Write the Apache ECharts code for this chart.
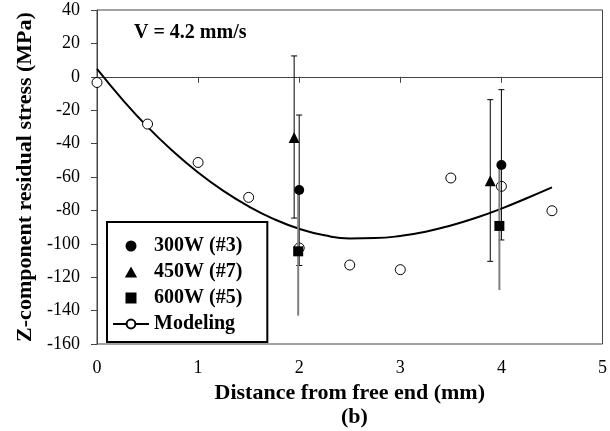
<!DOCTYPE html>
<html>
<head>
<meta charset="utf-8">
<script src="https://cdn.jsdelivr.net/npm/echarts@6/dist/echarts.min.js"></script>
<style>
  html, body { margin: 0; padding: 0; background: #fff; }
  #chart { width: 610px; height: 431px; }
</style>
</head>
<body>
<div id="chart"></div>
<script>
// modeling: fitted curve + computed points
const curveX = [0, 0.25, 0.5, 0.75, 1, 1.25, 1.5, 1.75, 2, 2.25, 2.5, 2.75, 3, 3.25, 3.5, 3.75, 4, 4.25, 4.5];
const curveY = [4.7, -13.5, -30, -44.5, -57.3, -68.3, -77.6, -85.2, -91, -94.9, -96.8, -96.6, -95.3, -92.8, -89, -84.4, -78.9, -72.7, -66.2];
const modelX = [0, 0.5, 1, 1.5, 2, 2.5, 3, 3.5, 4, 4.5];
const modelY = [-3.4, -28.3, -51.3, -72.2, -102.5, -112.7, -115.5, -60.6, -65.6, -80.2];

// measurements (x, mean, low, high)
const w300X = [2.0, 4.0];
const w300Y = [-67.8, -52.8];
const w300Lo = [-113, -97.7];
const w300Hi = [-22.9, -7.7];

const w450X = [1.95, 3.89];
const w450Y = [-36.3, -62.2];
const w450Lo = [-84.6, -110.5];
const w450Hi = [12.5, -13.7];

const w600X = [1.99, 3.98];
const w600Y = [-104.5, -89.3];
const w600Lo = [-143, -127.7];
const w600Hi = [-66, -51.6];

const font = '"Liberation Serif", "Times New Roman", serif';

const pairs = (xs, ys) => xs.map((x, i) => [x, ys[i]]);
const bars = (xs, lo, hi) => xs.map((x, i) => [x, lo[i], hi[i]]);

// vertical error bar drawn in data coords
function errorBar(color, width, cap) {
    return function (params, api) {
        const top = api.coord([api.value(0), api.value(2)]);
        const bot = api.coord([api.value(0), api.value(1)]);
        const style = { stroke: color, lineWidth: width };
        const children = [
            { type: 'line', shape: { x1: top[0], y1: top[1], x2: bot[0], y2: bot[1] }, style }
        ];
        if (cap) {
            children.push(
                { type: 'line', shape: { x1: top[0] - 3, y1: top[1], x2: top[0] + 3, y2: top[1] }, style },
                { type: 'line', shape: { x1: bot[0] - 3, y1: bot[1], x2: bot[0] + 3, y2: bot[1] }, style }
            );
        }
        return { type: 'group', children };
    };
}

const chart = echarts.init(document.getElementById('chart'));

const option = {
    backgroundColor: '#fff',
    animation: false,
    title: [
        {
            text: 'V = 4.2 mm/s',
            left: 134, top: 23,
            padding: 0,
            textStyle: { fontFamily: font, fontSize: 20, fontWeight: 'bold', color: '#000' }
        },
        {
            text: '(b)',
            left: 341, top: 406,
            padding: 0,
            textStyle: { fontFamily: font, fontSize: 22, fontWeight: 'bold', color: '#000' }
        }
    ],
    grid: {
        left: 97, right: 4, top: 10, bottom: 87,
        show: true,
        borderColor: '#444',
        borderWidth: 1
    },
    legend: {
        data: [
            { name: '300W (#3)', icon: 'circle' },
            { name: '450W (#7)', icon: 'path://M5,0 L10,9 L0,9 Z' },
            { name: '600W (#5)', icon: 'path://M0,0 L10,0 L10,10 L0,10 Z' },
            { name: 'Modeling' }
        ],
        orient: 'vertical',
        left: 107, top: 222,
        padding: [14, 25, 8, 5],
        borderColor: '#000',
        borderWidth: 2,
        itemWidth: 36,
        itemHeight: 11,
        itemGap: 6,
        symbolKeepAspect: true,
        selectedMode: false,
        textStyle: { fontFamily: font, fontSize: 20, fontWeight: 'bold', color: '#000' }
    },
    xAxis: {
        type: 'value',
        min: 0, max: 5, interval: 1,
        name: 'Distance from free end (mm)',
        nameLocation: 'middle',
        nameGap: 37,
        nameTextStyle: { fontFamily: font, fontSize: 22, fontWeight: 'bold', color: '#000' },
        axisLine: { lineStyle: { color: '#444' } },
        axisTick: { show: true, length: 6, lineStyle: { color: '#444' } },
        axisLabel: { fontFamily: font, fontSize: 18, color: '#000', margin: 15 },
        splitLine: { show: false }
    },
    yAxis: {
        type: 'value',
        min: -160, max: 40, interval: 20,
        name: 'Z-component residual stress (MPa)',
        nameLocation: 'middle',
        nameGap: 58,
        nameTextStyle: { fontFamily: font, fontSize: 22, fontWeight: 'bold', color: '#000' },
        axisLine: { show: true, lineStyle: { color: '#444' } },
        axisTick: { show: true, length: 6, lineStyle: { color: '#444' } },
        axisLabel: { fontFamily: font, fontSize: 18, color: '#000', margin: 17 },
        splitLine: { show: false }
    },
    series: [
        {
            name: 'Modeling',
            type: 'line',
            data: pairs(curveX, curveY),
            smooth: true,
            symbol: 'emptyCircle',
            symbolSize: 9,
            showSymbol: false,
            lineStyle: { color: '#000', width: 2 },
            itemStyle: { color: '#000', borderColor: '#000', borderWidth: 1 },
            z: 3
        },
        {
            name: 'Modeling',
            type: 'scatter',
            data: pairs(modelX, modelY),
            symbol: 'circle',
            symbolSize: 10,
            itemStyle: { color: '#fff', borderColor: '#000', borderWidth: 1, opacity: 1 },
            z: 4
        },
        {
            name: 'bar450',
            type: 'custom',
            data: bars(w450X, w450Lo, w450Hi),
            renderItem: errorBar('#000', 1, true),
            encode: { x: 0, y: [1, 2] },
            z: 5
        },
        {
            name: 'bar300',
            type: 'custom',
            data: bars(w300X, w300Lo, w300Hi),
            renderItem: errorBar('#000', 1, true),
            encode: { x: 0, y: [1, 2] },
            z: 5
        },
        {
            name: 'bar600',
            type: 'custom',
            data: bars(w600X, w600Lo, w600Hi),
            renderItem: errorBar('#808080', 2, false),
            encode: { x: 0, y: [1, 2] },
            z: 5
        },
        {
            name: '300W (#3)',
            type: 'scatter',
            data: pairs(w300X, w300Y),
            symbol: 'circle',
            symbolSize: 10,
            itemStyle: { color: '#000', opacity: 1 },
            z: 6
        },
        {
            name: '450W (#7)',
            type: 'scatter',
            data: pairs(w450X, w450Y),
            symbol: 'triangle',
            symbolSize: 11,
            itemStyle: { color: '#000', opacity: 1 },
            z: 6
        },
        {
            name: '600W (#5)',
            type: 'scatter',
            data: pairs(w600X, w600Y),
            symbol: 'rect',
            symbolSize: 10,
            itemStyle: { color: '#000', opacity: 1 },
            z: 6
        }
    ]
};

chart.setOption(option);
</script>
</body>
</html>
